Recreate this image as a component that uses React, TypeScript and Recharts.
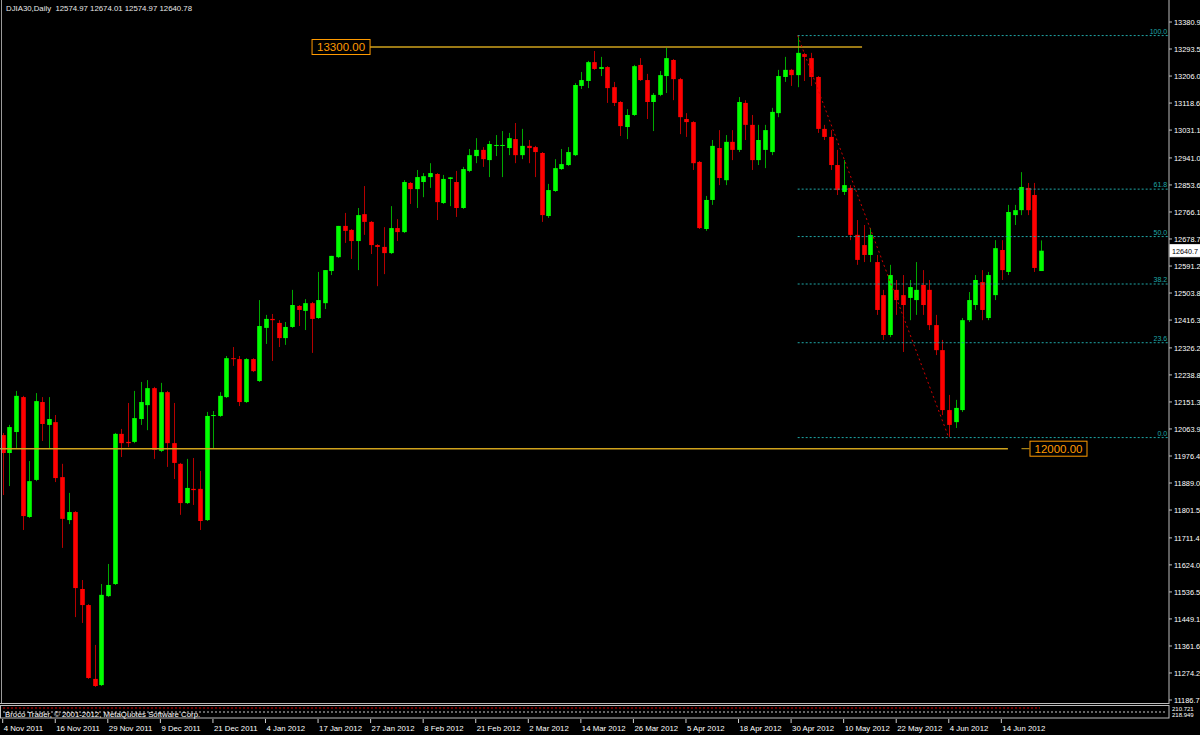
import { ComposedChart, Bar, XAxis, YAxis, ReferenceLine, ReferenceDot } from "recharts"

// DJIA30 daily candles, 4 Nov 2011 .. 19 Jun 2012
const opens = [
  12044, 11986, 12054, 12167, 11779, 11899, 12151, 12077, 12086, 11908,
  11769, 11795, 11546, 11494, 11255, 11235, 11523, 11562, 12048, 12022,
  12022, 12096, 12141, 12196, 11993, 12183, 12018, 11951, 11824, 11870,
  11870, 11769, 12106, 12106, 12167, 12293, 12290, 12151, 12290, 12219,
  12391, 12420, 12407, 12358, 12394, 12462, 12446, 12471, 12423, 12471,
  12575, 12620, 12721, 12708, 12672, 12759, 12734, 12659, 12653, 12633,
  12714, 12701, 12860, 12840, 12863, 12879, 12889, 12795, 12873, 12863,
  12779, 12899, 12947, 12967, 12934, 12980, 12980, 12973, 13002, 12950,
  12980, 12976, 12957, 12753, 12834, 12905, 12918, 12950, 13174, 13190,
  13251, 13229, 13235, 13170, 13122, 13041, 13080, 13242, 13193, 13122,
  13145, 13206, 13258, 13196, 13067, 13057, 12928, 12711, 12805, 12973,
  12869, 12993, 12967, 13119, 13048, 12934, 12967, 12960, 13086, 13203,
  13226, 13209, 13277, 13264, 13203, 13035, 13009, 12918, 12831, 12844,
  12692, 12659, 12627, 12604, 12497, 12368, 12514, 12497, 12488, 12481,
  12530, 12514, 12400, 12319, 12125, 12086, 12125, 12416, 12465, 12539,
  12423, 12497, 12643, 12572, 12756, 12772, 12844, 12821, 12574.97,
]
const highs = [
  12051, 12077, 12187, 12171, 11960, 12180, 12167, 12167, 12109, 11951,
  11857, 11798, 11575, 11497, 11365, 11562, 11627, 12051, 12064, 12148,
  12187, 12216, 12222, 12200, 12213, 12187, 12148, 11954, 11967, 11970,
  11928, 12119, 12122, 12183, 12300, 12329, 12300, 12293, 12293, 12481,
  12433, 12436, 12416, 12410, 12514, 12465, 12484, 12475, 12572, 12578,
  12624, 12721, 12763, 12711, 12779, 12850, 12737, 12662, 12717, 12785,
  12743, 12869, 12863, 12902, 12892, 12924, 12892, 12886, 12879, 12899,
  12912, 12970, 13005, 12976, 12996, 13015, 13028, 13022, 13054, 13035,
  12999, 12980, 12960, 12857, 12937, 12970, 12976, 13183, 13219, 13255,
  13287, 13268, 13238, 13187, 13125, 13099, 13242, 13264, 13213, 13151,
  13222, 13297, 13261, 13200, 13086, 13060, 12931, 12818, 12999, 13031,
  13015, 13031, 13138, 13128, 13080, 13048, 13048, 13103, 13226, 13268,
  13229, 13336, 13281, 13281, 13206, 13048, 13031, 12967, 12934, 12853,
  12740, 12724, 12714, 12627, 12514, 12595, 12546, 12562, 12546, 12604,
  12578, 12546, 12433, 12352, 12174, 12158, 12423, 12507, 12562, 12578,
  12572, 12675, 12675, 12789, 12789, 12895, 12860, 12860, 12674.01,
]
const lows = [
  11850, 11879, 12002, 11737, 11776, 11895, 12025, 12002, 11892, 11679,
  11756, 11455, 11436, 11255, 11229, 11232, 11520, 11559, 11973, 12005,
  12018, 12077, 12060, 11967, 11989, 11941, 11902, 11786, 11821, 11818,
  11737, 11766, 12002, 12103, 12164, 12268, 12138, 12148, 12248, 12216,
  12339, 12284, 12329, 12336, 12391, 12397, 12384, 12310, 12420, 12452,
  12562, 12617, 12666, 12614, 12578, 12692, 12630, 12526, 12565, 12630,
  12672, 12698, 12792, 12779, 12814, 12844, 12740, 12792, 12785, 12750,
  12776, 12895, 12924, 12912, 12879, 12947, 12879, 12950, 12924, 12937,
  12924, 12879, 12734, 12747, 12831, 12902, 12915, 12947, 13164, 13167,
  13226, 13206, 13119, 13109, 13012, 13002, 13077, 13190, 13067, 13028,
  13141, 13151, 13128, 13018, 13009, 12902, 12711, 12705, 12789, 12853,
  12853, 12934, 12960, 12999, 12902, 12918, 12908, 12950, 13073, 13187,
  13174, 13170, 13190, 13174, 13022, 12999, 12902, 12821, 12821, 12675,
  12595, 12604, 12604, 12433, 12352, 12361, 12433, 12313, 12416, 12433,
  12433, 12384, 12303, 12109, 12038, 12067, 12119, 12410, 12449, 12416,
  12416, 12481, 12546, 12562, 12724, 12756, 12756, 12572, 12574.97,
]
const closes = [
  11986, 12070, 12171, 11782, 11895, 12154, 12080, 12096, 11905, 11773,
  11795, 11549, 11494, 11258, 11232, 11527, 11559, 12048, 12018, 12018,
  12099, 12151, 12196, 11996, 12183, 12018, 11954, 11824, 11873, 11866,
  11766, 12106, 12109, 12171, 12293, 12290, 12151, 12290, 12251, 12397,
  12420, 12416, 12358, 12394, 12465, 12449, 12471, 12420, 12481, 12578,
  12624, 12721, 12705, 12672, 12756, 12734, 12659, 12653, 12633, 12714,
  12701, 12863, 12840, 12879, 12882, 12892, 12798, 12873, 12878, 12779,
  12905, 12950, 12967, 12937, 12986, 12983, 12983, 13005, 12950, 12980,
  12973, 12960, 12756, 12837, 12908, 12921, 12960, 13177, 13193, 13251,
  13229, 13235, 13167, 13119, 13044, 13080, 13238, 13193, 13122, 13145,
  13209, 13264, 13196, 13073, 13057, 12924, 12714, 12805, 12980, 12876,
  12993, 12967, 13122, 13048, 12934, 12999, 13031, 13090, 13206, 13226,
  13209, 13281, 13268, 13203, 13035, 13009, 12918, 12837, 12853, 12692,
  12611, 12627, 12692, 12449, 12368, 12562, 12481, 12465, 12523, 12514,
  12465, 12400, 12319, 12125, 12077, 12132, 12416, 12481, 12546, 12449,
  12562, 12649, 12578, 12766, 12772, 12847, 12772, 12585, 12640.78,
]

const dateTicks = [0, 8, 16, 24, 32, 40, 48, 56, 64, 72, 80, 88, 96, 104, 112, 120, 128, 136, 144, 152]
const dateLabels = [
  "4 Nov 2011", "16 Nov 2011", "29 Nov 2011", "9 Dec 2011", "21 Dec 2011",
  "4 Jan 2012", "17 Jan 2012", "27 Jan 2012", "8 Feb 2012", "21 Feb 2012",
  "2 Mar 2012", "14 Mar 2012", "26 Mar 2012", "5 Apr 2012", "18 Apr 2012",
  "30 Apr 2012", "10 May 2012", "22 May 2012", "4 Jun 2012", "14 Jun 2012",
]
const priceTicks = [
  13380.9, 13293.5, 13206.0, 13118.6, 13031.1, 12941.0, 12853.6, 12766.1, 12678.7,
  12591.2, 12503.8, 12416.3, 12326.2, 12238.8, 12151.3, 12063.9, 11976.4, 11889.0,
  11801.5, 11711.4, 11624.0, 11536.5, 11449.1, 11361.6, 11274.2, 11186.7,
]

// fibonacci retracement drawn from the swing high to the swing low
const fibLevels = [0, 23.6, 38.2, 50, 61.8, 100]
const fibHigh = 13337
const fibLow = 12036
const fibHighBar = 121
const fibLowBar = 144

const W = 1200
const H = 735
const X_DOMAIN: [number, number] = [-0.411, 177.52]
const Y_DOMAIN: [number, number] = [11173.8, 13452.1]
const FONT = "'Liberation Sans', Arial, sans-serif"
const FIB_COLOR = "#1fa6a6"
const GOLD = "#cfa21c"

const candles = opens.map((o, i) => ({
  i,
  open: o,
  high: highs[i],
  low: lows[i],
  close: closes[i],
  range: [lows[i], highs[i]],
}))

const Candle = (props: any) => {
  const { x, y, width, height, payload } = props
  const { open, close, high, low } = payload
  const up = close >= open
  const k = height / (high - low)
  const yo = y + (high - open) * k
  const yc = y + (high - close) * k
  const top = Math.min(yo, yc)
  const bh = Math.max(1, Math.abs(yo - yc))
  const cx = Math.round(x + width / 2) + 0.5
  return (
    <g>
      <line x1={cx} x2={cx} y1={y} y2={y + height} stroke={up ? "#00a800" : "#b40000"} strokeWidth={1} />
      <rect x={cx - 2.3} y={top} width={4.6} height={bh} fill={up ? "#00ff00" : "#ff0000"} />
    </g>
  )
}

const DateTick = (props: any) => {
  const { x, payload } = props
  const label = dateLabels[dateTicks.indexOf(payload.value)]
  return (
    <g>
      <line x1={x} x2={x} y1={719} y2={723} stroke="#d0d0d0" />
      <text x={x + 1} y={731} fill="#ffffff" fontSize={7.8} fontFamily={FONT}>
        {label}
      </text>
    </g>
  )
}

const boxLabel = (text: string, w: number) => (p: any) => (
  <g>
    <rect x={p.cx - w / 2} y={p.cy - 7.5} width={w} height={15} fill="#000" stroke="#ff9a00" strokeWidth={1} />
    <text x={p.cx} y={p.cy + 4} textAnchor="middle" fill="#ff9a00" fontSize={11.5} fontFamily={FONT}>
      {text}
    </text>
  </g>
)

const label12000 = (p: any) => (
  <g>
    <line x1={p.cx - 37} x2={p.cx - 29} y1={p.cy} y2={p.cy} stroke={GOLD} />
    {boxLabel("12000.00", 57)(p)}
  </g>
)

const fibText = (txt: string) => (p: any) => (
  <text x={p.cx - 1} y={p.cy - 2} textAnchor="end" fill={FIB_COLOR} fontSize={7} fontFamily={FONT}>
    {txt}
  </text>
)

// MT4 shows the bid truncated to one decimal
const bidText = (Math.floor(closes[closes.length - 1] * 10) / 10).toFixed(1)

const bidLabel = (p: any) => (
  <g>
    <rect x={p.cx + 1} y={p.cy - 6} width={31} height={12} fill="#ffffff" stroke="#ffffff" />
    <text x={p.cx + 3} y={p.cy + 3} fill="#000000" fontSize={7.2} fontFamily={FONT}>
      {bidText}
    </text>
  </g>
)

export default function App() {
  const last = candles[candles.length - 1]
  return (
    <div style={{ position: "absolute", left: 0, top: 0, width: W, height: H, background: "#000", overflow: "hidden" }}>
      <ComposedChart width={W} height={H} data={candles} margin={{ top: 0, right: 0, bottom: 0, left: 0 }}>
        <XAxis
          type="number"
          dataKey="i"
          domain={X_DOMAIN}
          allowDataOverflow
          ticks={dateTicks}
          interval={0}
          height={31}
          axisLine={false}
          tickLine={false}
          tick={<DateTick />}
        />
        <YAxis
          orientation="right"
          type="number"
          domain={Y_DOMAIN}
          allowDataOverflow
          ticks={priceTicks}
          interval={0}
          width={31}
          axisLine={{ stroke: "#bdbdbd" }}
          tickLine={{ stroke: "#bdbdbd" }}
          tickSize={3}
          tickMargin={2}
          tick={{ fill: "#ffffff", fontSize: 7.4, fontFamily: FONT }}
          tickFormatter={(v: number) => v.toFixed(1)}
        />

        {/* horizontal levels */}
        <ReferenceLine
          segment={[{ x: 55.9, y: 13300 }, { x: 130.8, y: 13300 }]}
          stroke={GOLD}
          strokeWidth={1.5}
        />
        <ReferenceLine
          segment={[{ x: X_DOMAIN[0], y: 12000 }, { x: 153.0, y: 12000 }]}
          stroke={GOLD}
          strokeWidth={1.5}
        />

        {/* fibo levels */}
        {fibLevels.map((lv) => {
          const price = fibLow + ((fibHigh - fibLow) * lv) / 100
          return (
            <ReferenceLine
              key={"fib" + lv}
              segment={[{ x: fibHighBar, y: price }, { x: X_DOMAIN[1], y: price }]}
              stroke={FIB_COLOR}
              strokeDasharray="2 2"
            />
          )
        })}
        <ReferenceLine
          segment={[{ x: fibHighBar, y: fibHigh }, { x: fibLowBar, y: fibLow }]}
          stroke="#d00000"
          strokeDasharray="2 3"
        />

        <Bar dataKey="range" barSize={5} shape={<Candle />} isAnimationActive={false} />

        {fibLevels.map((lv) => (
          <ReferenceDot
            key={"fibl" + lv}
            x={177.4}
            y={fibLow + ((fibHigh - fibLow) * lv) / 100}
            shape={fibText(lv.toFixed(1))}
            ifOverflow="visible"
          />
        ))}
        <ReferenceDot x={51.5} y={13300} shape={boxLabel("13300.00", 58)} ifOverflow="visible" />
        <ReferenceDot x={160.7} y={12000} shape={label12000} ifOverflow="visible" />
        <ReferenceDot x={X_DOMAIN[1]} y={last.close} shape={bidLabel} ifOverflow="visible" />
      </ComposedChart>

      {/* chart frame, title and the indicator sub-window */}
      <svg width={W} height={H} style={{ position: "absolute", left: 0, top: 0, pointerEvents: "none" }}>
        <line x1={1.5} x2={1.5} y1={0} y2={704} stroke="#9a9a9a" />
        <line x1={0} x2={1169} y1={703.5} y2={703.5} stroke="#bdbdbd" />
        <text x={6} y={11} fill="#e8e8e8" fontSize={7.8} fontFamily={FONT} style={{ whiteSpace: "pre" }}>
          {`DJIA30,Daily  ${last.open} ${last.high} ${last.low} ${last.close}`}
        </text>
        <rect x={0.5} y={705.5} width={1168.5} height={12.5} fill="#000" stroke="#bdbdbd" />
        <line x1={3} x2={1040} y1={708} y2={708} stroke="#e00000" strokeDasharray="2 2" />
        <line x1={3} x2={1166} y1={712} y2={712} stroke="#c8c8c8" strokeDasharray="2 2" />
        <text x={5} y={717} fill="#ffffff" fontSize={7.8} fontFamily={FONT}>
          Broco Trader, © 2001-2012, MetaQuotes Software Corp.
        </text>
        <text x={1172} y={711} fill="#ffffff" fontSize={6} fontFamily={FONT}>210.721</text>
        <text x={1172} y={717} fill="#ffffff" fontSize={6} fontFamily={FONT}>218.949</text>
      </svg>
    </div>
  )
}
